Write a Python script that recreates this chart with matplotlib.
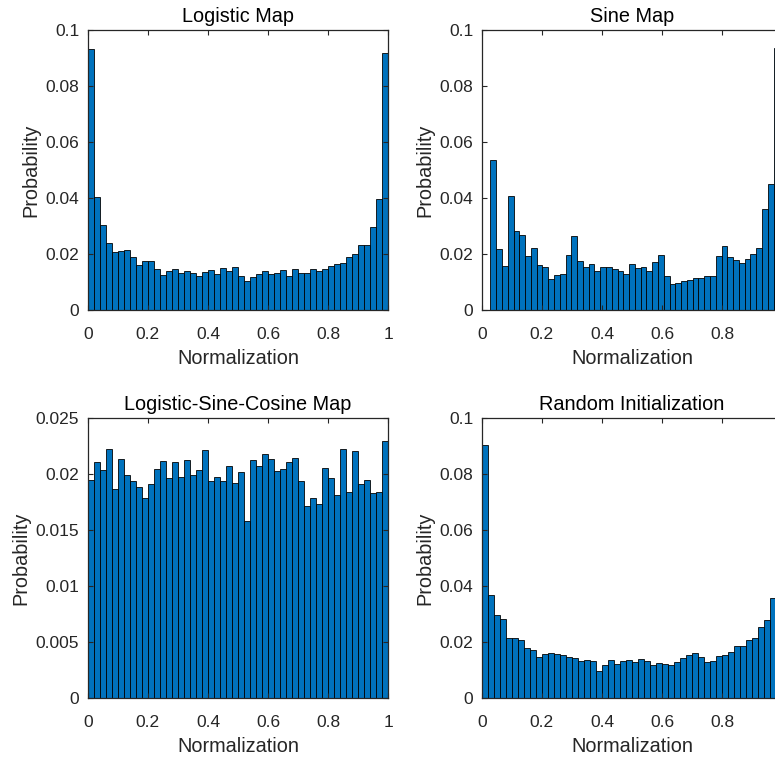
import numpy as np
import matplotlib
matplotlib.use("Agg")
import matplotlib.pyplot as plt
from matplotlib.ticker import FuncFormatter

plt.rcParams['font.family'] = ['Liberation Sans', 'DejaVu Sans']

titles = ["Logistic Map", "Sine Map", "Logistic-Sine-Cosine Map", "Random Initialization"]
xlabel = "Normalization"
ylabel = "Probability"

logistic = [0.0931, 0.0402, 0.0302, 0.0238, 0.0208, 0.0212, 0.0214, 0.0188, 0.0160, 0.0176,
            0.0174, 0.0145, 0.0126, 0.0138, 0.0148, 0.0131, 0.0138, 0.0133, 0.0121, 0.0136,
            0.0143, 0.0129, 0.0150, 0.0140, 0.0152, 0.0121, 0.0105, 0.0117, 0.0129, 0.0138,
            0.0129, 0.0131, 0.0143, 0.0121, 0.0148, 0.0131, 0.0131, 0.0145, 0.0138, 0.0145,
            0.0157, 0.0164, 0.0167, 0.0190, 0.0200, 0.0231, 0.0233, 0.0295, 0.0395, 0.0917]

sine = [0.0535, 0.0217, 0.0158, 0.0408, 0.0281, 0.0267, 0.0194, 0.0223, 0.0160, 0.0155,
        0.0112, 0.0124, 0.0127, 0.0195, 0.0264, 0.0174, 0.0152, 0.0165, 0.0140, 0.0155,
        0.0155, 0.0145, 0.0138, 0.0130, 0.0163, 0.0149, 0.0152, 0.0140, 0.0171, 0.0196,
        0.0120, 0.0094, 0.0098, 0.0102, 0.0107, 0.0113, 0.0114, 0.0120, 0.0120, 0.0192,
        0.0230, 0.0190, 0.0180, 0.0167, 0.0181, 0.0200, 0.0221, 0.0360, 0.0450, 0.0935]

lsc = [0.01946, 0.02107, 0.02042, 0.02229, 0.01872, 0.02137, 0.01991, 0.01938, 0.01887, 0.01792,
       0.01917, 0.02048, 0.02116, 0.01970, 0.02107, 0.01979, 0.02125, 0.01997, 0.02036, 0.02217,
       0.01943, 0.01979, 0.01943, 0.02071, 0.01926, 0.02018, 0.01586, 0.02125, 0.02071, 0.02179,
       0.02137, 0.02033, 0.02048, 0.02107, 0.02149, 0.01938, 0.01720, 0.01789, 0.01738, 0.02060,
       0.01970, 0.01818, 0.02229, 0.01845, 0.02205, 0.01917, 0.01946, 0.01830, 0.01845, 0.02298]

random_init = [0.0904, 0.0369, 0.0298, 0.0282, 0.0214, 0.0214, 0.0207, 0.0179, 0.0173, 0.0149,
               0.0157, 0.0161, 0.0160, 0.0155, 0.0149, 0.0144, 0.0135, 0.0138, 0.0133, 0.0099,
               0.0118, 0.0136, 0.0121, 0.0132, 0.0136, 0.0129, 0.0139, 0.0133, 0.0120, 0.0127,
               0.0124, 0.0118, 0.0129, 0.0144, 0.0156, 0.0163, 0.0146, 0.0129, 0.0132, 0.0150,
               0.0155, 0.0165, 0.0186, 0.0188, 0.0207, 0.0214, 0.0255, 0.0279, 0.0357, 0.0863]

# bin ranges (data min / max of each normalized series)
bin_ranges = [(0.0, 1.0), (0.029, 0.99), (0.0, 1.0), (0.0, 1.0)]
series = [logistic, sine, lsc, random_init]
ymax = [0.1, 0.1, 0.025, 0.1]
ytick_step = [0.02, 0.02, 0.005, 0.02]
xticks = [0, 0.2, 0.4, 0.6, 0.8, 1]

W, H = 775, 760
fig = plt.figure(figsize=(W / 100, H / 100), dpi=100)

ax_w = 300.6 / W
ax_h = 280 / H
lefts = [87.7 / W, 481.7 / W]
bottoms = [(H - 310) / H, (H - 698.3) / H]

face = '#0072BD'
axcol = '#262626'


def g(v):
    return '%g' % round(v, 6)


for i in range(4):
    r, c = divmod(i, 2)
    ax = fig.add_axes([lefts[c], bottoms[r], ax_w, ax_h])
    vals = np.array(series[i])
    edges = np.linspace(bin_ranges[i][0], bin_ranges[i][1], len(vals) + 1)
    ax.bar(edges[:-1], vals, width=np.diff(edges), align='edge',
           color=face, edgecolor=(0, 0, 0, 0.85), linewidth=0.7)
    ax.set_xlim(0, 1)
    ax.set_ylim(0, ymax[i])
    ax.set_xticks(xticks)
    # right column: the figure edge cuts the axes just before x = 1
    ax.set_xticklabels([g(t) if (c == 0 or t < 1) else '' for t in xticks])
    ax.set_yticks(np.arange(0, ymax[i] + 1e-9, ytick_step[i]))
    ax.yaxis.set_major_formatter(FuncFormatter(lambda v, p: g(v)))
    ax.tick_params(direction='in', length=3.5, width=0.8, colors=axcol,
                   labelsize=12.5, top=True, right=True)
    ax.tick_params(axis='x', pad=12)
    ax.tick_params(axis='y', pad=6)
    for s in ax.spines.values():
        s.set_color(axcol)
        s.set_linewidth(0.9)
    ax.set_title(titles[i], fontsize=14.3, color='black', pad=6)
    ax.set_xlabel(xlabel, fontsize=14.3, color=axcol, labelpad=5)
    ax.set_ylabel(ylabel, fontsize=14.3, color=axcol, labelpad=4)

fig.savefig('out.png', dpi=100)
